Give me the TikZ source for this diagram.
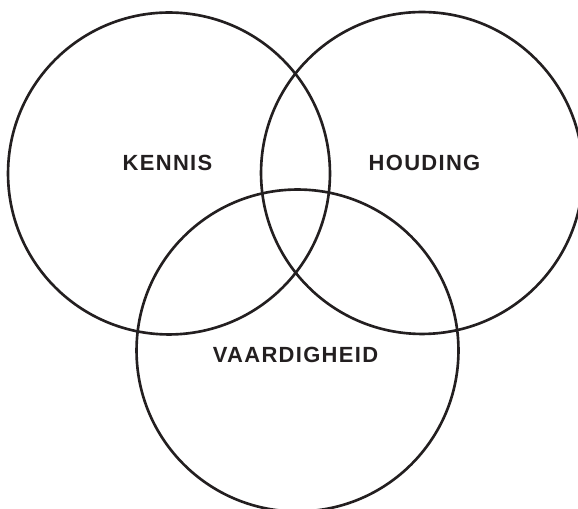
\documentclass[tikz,border=0pt]{standalone}
\usepackage{fontspec}
\newfontfamily\vennfont[LetterSpace=6]{Liberation Sans}
\usetikzlibrary{positioning}
\definecolor{ink}{HTML}{231F20}
\tikzset{
  setline/.style={draw=ink, line width=1.5pt},
  setname/.style={font=\vennfont\bfseries\fontsize{12.5}{14}\selectfont, text=ink, inner sep=0pt}
}
\begin{document}
\begin{tikzpicture}[x=0.02cm,y=-0.02cm]
  \useasboundingbox (0,0) rectangle (578,509);
  \clip (0,0) rectangle (578,509);
  \coordinate (kennis) at (169,173.5);
  \coordinate (houding) at (422,173);
  \coordinate (vaardigheid) at (297.5,350.5);
  \foreach \c in {kennis,houding,vaardigheid}{
    \draw[setline] (\c) circle (3.22cm);
  }
  \node[setname] (k) at (167.5,163) {KENNIS};
  \node[setname] (h) at (424.5,163) {HOUDING};
  \node[setname] (v) at (295.5,355) {VAARDIGHEID};
\end{tikzpicture}
\end{document}
